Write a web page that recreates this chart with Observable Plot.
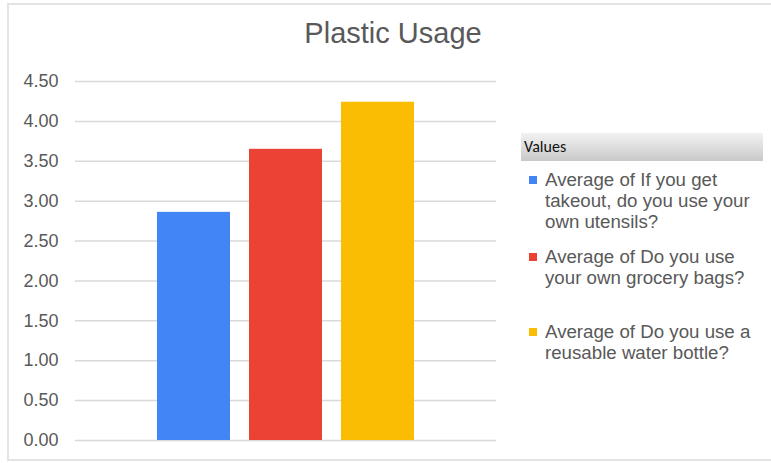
<!DOCTYPE html>
<html>
<head>
<meta charset="utf-8">
<script src="https://cdn.jsdelivr.net/npm/d3@7"></script>
<script src="https://cdn.jsdelivr.net/npm/@observablehq/plot@0.6"></script>
<style>
  html, body { margin: 0; padding: 0; background: #fff; }
  #wrap { position: relative; width: 771px; height: 463px; overflow: hidden; font-family: "Liberation Sans", Arial, sans-serif; }
  #frame { position: absolute; left: 7px; top: 3px; width: 800px; height: 458px; border: 2px solid #e3e3e3; border-right: none; box-sizing: border-box; }
  #title { position: absolute; left: 0; width: 786px; top: 17px; text-align: center; font-size: 29px; color: #595959; }
  #chart { position: absolute; left: 0; top: 0; }
  #legend { position: absolute; left: 521px; top: 133px; width: 242px; }
  #lhead { height: 28px; background: linear-gradient(#f2f2f2, #c9c9c9); font-family: "Carlito", "Liberation Sans", Arial, sans-serif; font-size: 16px; color: #111; line-height: 28px; padding-left: 3px; }
  .item { position: absolute; left: 8px; font-size: 18.7px; line-height: 21px; color: #595959; }
  .item .sw { position: absolute; left: 0; top: 7px; width: 8px; height: 8px; }
  .item .tx { position: absolute; left: 16px; width: 240px; white-space: nowrap; }
</style>
</head>
<body>
<div id="wrap">
  <div id="frame"></div>
  <div id="chart"></div>
  <div id="title">Plastic Usage</div>
  <div id="legend"><div id="lhead">Values</div></div>
</div>
<script>
const series = [
  "Average of If you get takeout, do you use your own utensils?",
  "Average of Do you use your own grocery bags?",
  "Average of Do you use a reusable water bottle?"
];
const values = [2.86, 3.65, 4.24];
const colors = ["#4285F4", "#EA4335", "#FBBC04"];
const yTicks = [0, 0.5, 1, 1.5, 2, 2.5, 3, 3.5, 4, 4.5];
const legendLines = [
  ["Average of If you get", "takeout, do you use your", "own utensils?"],
  ["Average of Do you use", "your own grocery bags?"],
  ["Average of Do you use a", "reusable water bottle?"]
];
const legendTops = [169, 246, 321];

const data = series.map((s, i) => ({series: s, value: values[i]}));

const plot = Plot.plot({
  width: 771,
  height: 463,
  marginLeft: 75,
  marginRight: 275,
  marginTop: 81,
  marginBottom: 23,
  style: {background: "transparent", fontFamily: "Liberation Sans, Arial, sans-serif"},
  x: {domain: series, paddingInner: 0.204, paddingOuter: 0.866, axis: null},
  y: {domain: [0, 4.5], ticks: yTicks, tickFormat: d => d.toFixed(2), label: null},
  color: {domain: series, range: colors},
  marks: [
    Plot.gridY(yTicks, {stroke: "#d9d9d9", strokeOpacity: 1, strokeWidth: 1.5}),
    Plot.axisY(yTicks, {tickSize: 0, tickPadding: 17, fontSize: 18, fill: "#595959", label: null, tickFormat: d => d.toFixed(2)}),
    Plot.barY(data, {x: "series", y: "value", fill: "series"})
  ]
});
document.getElementById("chart").appendChild(plot);

const legend = document.getElementById("legend");
series.forEach((s, i) => {
  const it = document.createElement("div");
  it.className = "item";
  it.style.top = (legendTops[i] - 133) + "px";
  const sw = document.createElement("div");
  sw.className = "sw";
  sw.style.background = colors[i];
  const tx = document.createElement("div");
  tx.className = "tx";
  tx.innerHTML = legendLines[i].join("<br>");
  it.appendChild(sw);
  it.appendChild(tx);
  legend.appendChild(it);
});
</script>
</body>
</html>
